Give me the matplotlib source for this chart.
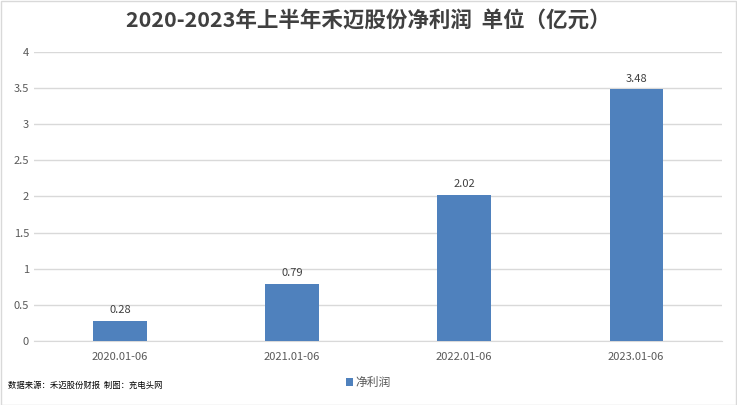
import matplotlib
matplotlib.use("Agg")
import matplotlib.pyplot as plt
from matplotlib.patches import Rectangle

plt.rcParams['font.family'] = ['Noto Sans CJK SC', 'DejaVu Sans']

periods = ["2020.01-06", "2021.01-06", "2022.01-06", "2023.01-06"]
profit = [0.28, 0.79, 2.02, 3.48]
yticks = [0, 0.5, 1, 1.5, 2, 2.5, 3, 3.5, 4]
ytick_labels = ["0", "0.5", "1", "1.5", "2", "2.5", "3", "3.5", "4"]

bar_color = "#4f81bd"
text_color = "#595959"

fig = plt.figure(figsize=(7.37, 4.05), dpi=100)
ax = fig.add_axes([0.046, 0.158, 0.934, 0.714])

x = range(len(periods))
bars = ax.bar(x, profit, width=0.31, color=bar_color, label="净利润", zorder=3)
for xi, v in zip(x, profit):
    ax.text(xi, v + 0.08, f"{v:.2f}", ha="center", va="bottom", fontsize=8, color="#404040")

ax.set_xlim(-0.5, len(periods) - 0.5)
ax.set_ylim(0, 4)
ax.set_yticks(yticks)
ax.set_yticklabels(ytick_labels)
ax.set_xticks(list(x))
ax.set_xticklabels(periods)
ax.tick_params(axis="both", length=0, labelsize=8, colors=text_color)
ax.tick_params(axis="x", pad=8)
ax.yaxis.grid(True, color="#d9d9d9", linewidth=1, zorder=0)
for s in ["top", "right", "left"]:
    ax.spines[s].set_visible(False)
ax.spines["bottom"].set_color("#d9d9d9")

fig.text(0.5, 0.948, "2020-2023年上半年禾迈股份净利润  单位（亿元）", ha="center", va="center",
         fontsize=15.5, fontweight="bold", color="#404040")
fig.text(0.011, 0.048, "数据来源：禾迈股份财报  制图：充电头网", ha="left", va="center",
         fontsize=6, color="#000000")
ax.legend(loc="center", bbox_to_anchor=(0.5, 0.055), bbox_transform=fig.transFigure,
          frameon=False, fontsize=8.5, handlelength=0.6, handleheight=0.6,
          handletextpad=0.2, labelcolor=text_color)

fig.add_artist(Rectangle((0.001, 0.001), 0.997, 0.997, transform=fig.transFigure,
                         fill=False, edgecolor="#d9d9d9", linewidth=1))

fig.savefig("out.png", dpi=100)
